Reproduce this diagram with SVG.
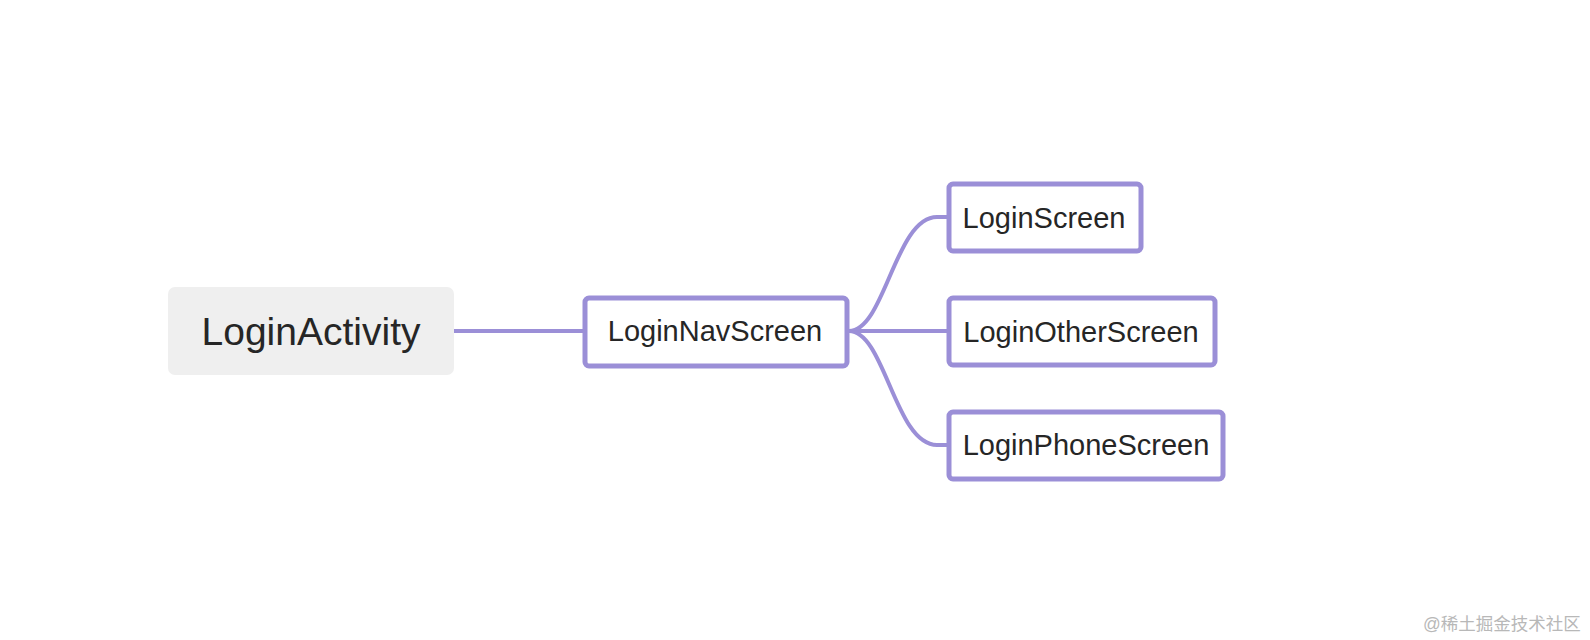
<svg xmlns="http://www.w3.org/2000/svg" width="1590" height="640" viewBox="0 0 1590 640">
<style>
.box{fill:#ffffff;stroke:#9b8fd7;stroke-width:5}
.root{fill:#efefef}
.lbl{font-family:"Liberation Sans",Arial,sans-serif;fill:#262626;text-anchor:middle}
.conn{fill:none;stroke:#9b8fd7;stroke-width:4;stroke-linecap:round}
.wm{font-family:"Liberation Sans","Noto Sans CJK SC",sans-serif;font-size:17.5px;fill:#b8b8b8}
</style>
<rect width="1590" height="640" fill="#ffffff"/>
<g id="connectors">
<path class="conn" d="M454 331 L584 331"/>
<path class="conn" d="M849 331 L947 331"/>
<path class="conn" d="M849 331 C885 331 895 217 937 217 L947 217"/>
<path class="conn" d="M849 331 C885 331 895 445 937 445 L947 445"/>
</g>
<g id="LoginActivity">
<rect class="root" x="168" y="287" width="286" height="88" rx="7"/>
<text class="lbl" x="311" y="345" font-size="39">LoginActivity</text>
</g>
<g id="LoginNavScreen">
<rect class="box" x="585" y="298" width="262" height="68" rx="4"/>
<text class="lbl" x="715" y="341" font-size="29">LoginNavScreen</text>
</g>
<g id="LoginScreen">
<rect class="box" x="949" y="184" width="192" height="67" rx="4"/>
<text class="lbl" x="1044" y="228" font-size="29">LoginScreen</text>
</g>
<g id="LoginOtherScreen">
<rect class="box" x="949" y="298" width="266" height="67" rx="4"/>
<text class="lbl" x="1081" y="342" font-size="29">LoginOtherScreen</text>
</g>
<g id="LoginPhoneScreen">
<rect class="box" x="949" y="412" width="274" height="67" rx="4"/>
<text class="lbl" x="1086" y="455" font-size="29">LoginPhoneScreen</text>
</g>
<text class="wm" x="1423" y="630">@稀土掘金技术社区</text>
</svg>
